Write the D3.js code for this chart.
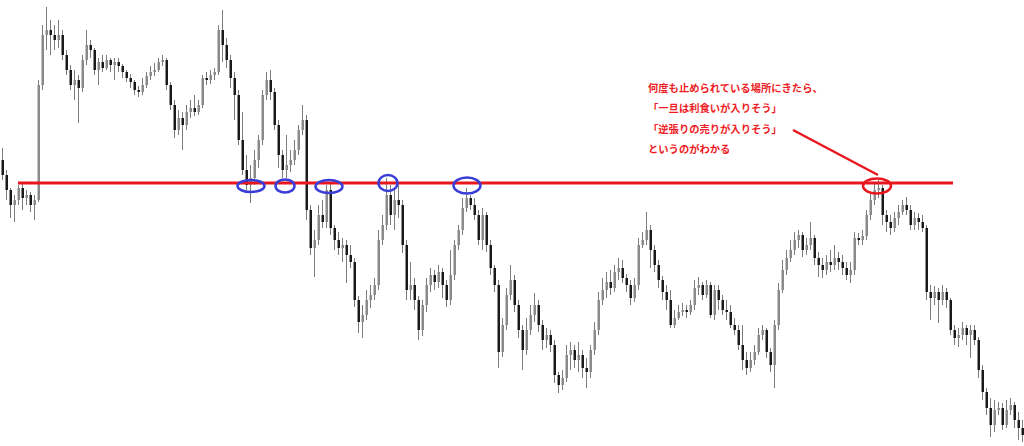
<!DOCTYPE html>
<html><head><meta charset="utf-8">
<script src="https://cdn.jsdelivr.net/npm/d3@7"></script>
<style>html,body{margin:0;padding:0;background:#fff;}svg{display:block;}</style>
</head><body>
<svg id="chart" width="1024" height="446"></svg>
<script>
// Price data (arbitrary price units), one candle per bar
const closes = [275,260,245,250,262,252,255,245,250,365,
415,420,415,410,415,395,380,365,370,362,
390,405,400,380,388,382,390,385,388,384,
378,372,368,360,358,365,374,378,380,388,
390,365,345,320,332,325,338,342,338,345,
372,370,375,378,420,405,390,372,355,310,
280,265,272,290,310,355,370,358,325,295,
280,285,290,300,320,330,240,202,210,235,
228,260,222,210,202,205,195,188,150,128,
135,150,155,165,210,225,255,235,250,245,
205,160,165,150,120,145,165,175,168,178,
165,150,175,205,220,242,252,245,235,210,
235,205,182,165,98,125,155,170,145,120,
100,120,135,145,125,110,115,105,75,65,
72,95,100,90,95,82,78,100,120,150,
160,168,162,178,182,172,165,152,165,205,
210,220,200,185,170,158,150,125,132,138,
140,138,145,162,165,155,165,135,160,150,
140,138,125,120,105,90,82,90,98,115,
120,98,85,125,160,180,192,200,210,215,
200,205,212,192,185,180,188,185,192,188,
182,175,180,212,210,214,235,250,260,262,
235,228,222,232,238,245,240,225,232,228,
222,158,152,158,150,158,150,120,112,115,
122,115,120,110,80,58,42,25,40,42,
25,40,45,30,22,15];
const opens = [290,275,260,245,250,262,252,255,245,250,
365,415,420,415,410,415,395,380,365,370,
362,390,405,400,380,388,382,390,385,388,
384,378,372,368,360,358,365,374,378,380,
388,390,365,345,320,332,325,338,342,338,
345,372,370,375,378,420,405,390,372,355,
310,280,265,272,290,310,355,370,358,325,
295,280,285,290,300,320,330,240,202,210,
235,228,260,222,210,202,205,195,188,150,
128,135,150,155,165,210,225,255,235,250,
245,205,160,165,150,120,145,165,175,168,
178,165,150,175,205,220,242,252,245,235,
210,235,205,182,165,98,125,155,170,145,
120,100,120,135,145,125,110,115,105,75,
65,72,95,100,90,95,82,78,100,120,
150,160,168,162,178,182,172,165,152,165,
205,210,220,200,185,170,158,150,125,132,
138,140,138,145,162,165,155,165,135,160,
150,140,138,125,120,105,90,82,90,98,
115,120,98,85,125,160,180,192,200,210,
215,200,205,212,192,185,180,188,185,192,
188,182,175,180,212,210,214,235,250,260,
262,235,228,222,232,238,245,240,225,232,
228,222,158,152,158,150,158,150,120,112,
115,122,115,120,110,80,58,42,25,40,
42,25,40,45,30,22];
const highs = [302,280,262,255,265,267,260,258,255,370,
425,443,430,425,430,420,400,385,380,375,
395,420,410,402,392,395,395,392,392,392,
386,380,376,370,364,372,378,384,387,392,
395,392,368,350,340,338,345,350,355,350,
375,378,380,382,425,440,412,395,378,360,
338,295,285,300,315,360,378,380,362,330,
300,315,300,310,325,345,335,245,220,245,
250,265,267,225,218,212,210,205,192,154,
145,160,165,172,220,235,272,265,260,265,
250,210,188,172,154,150,172,182,180,185,
182,170,200,210,225,252,262,255,252,240,
242,238,210,185,170,132,162,185,175,150,
125,132,145,157,150,130,122,120,110,78,
80,105,108,105,108,100,92,105,128,158,
172,178,180,185,192,190,176,170,172,212,
218,238,225,205,190,174,165,160,140,145,
147,145,150,170,173,168,170,168,165,165,
155,150,145,132,125,125,98,98,105,122,
125,122,102,130,167,190,200,210,218,220,
218,212,228,215,198,192,195,200,205,198,
195,188,188,218,217,220,240,257,267,270,
265,240,235,238,245,250,253,245,238,237,
235,225,165,164,162,165,162,152,125,122,
128,125,125,125,113,85,62,52,50,48,
47,50,52,48,38,30];
const lows = [270,250,232,228,245,240,245,238,230,248,
360,400,395,400,402,390,375,360,350,327,
358,385,392,375,365,378,380,378,370,378,
372,368,362,355,353,355,362,370,374,378,
384,360,340,312,315,300,320,332,334,335,
342,365,366,370,375,388,382,362,330,305,
275,260,247,265,282,305,350,350,320,282,
272,272,278,285,295,315,230,195,173,205,
222,222,215,200,195,188,167,182,143,117,
112,130,142,150,160,205,220,225,220,232,
197,150,150,140,110,114,138,158,160,162,
152,143,145,170,200,215,238,240,230,205,
200,198,175,158,82,93,120,150,138,112,
80,95,115,128,118,100,102,98,67,57,
60,68,80,82,78,72,62,72,95,115,
145,152,155,158,170,167,158,145,148,160,
202,205,182,178,162,150,140,122,122,130,
134,132,135,140,155,150,152,132,130,140,
135,130,122,115,100,80,75,78,85,95,
110,92,78,62,120,157,175,188,195,202,
193,195,200,185,173,172,175,178,180,180,
175,170,167,175,205,205,210,230,245,252,
225,218,215,218,225,235,235,220,220,220,
218,150,130,145,127,145,142,115,105,103,
110,105,92,105,72,50,35,13,18,35,
20,22,35,22,10,8];
const barIndex = d3.range(closes.length);

// Annotation values
const resistanceLevel = 267;
const resistanceSpan = [4, 237.75];
const touches = [
  {i: 62.25, v: 264, rx: 13.5, ry: 6},
  {i: 70.75, v: 264, rx: 9.5, ry: 6.5},
  {i: 81.75, v: 263.5, rx: 13.5, ry: 6.5},
  {i: 96.5, v: 267, rx: 9.5, ry: 8},
  {i: 116.25, v: 264.5, rx: 13.5, ry: 8}
];
const latestTouch = {i: 218.75, v: 264, rx: 14, ry: 7.5};
const pointer = [{i: 197.75, v: 320}, {i: 219, v: 275}];
const noteLines = ["何度も止められている場所にきたら、", "「一旦は利食いが入りそう」", "「逆張りの売りが入りそう」", "というのがわかる"];

const svg = d3.select("#chart");
const x = d3.scaleLinear().domain([0, closes.length - 1]).range([2, 1022]);
const y = d3.scaleLinear().domain([4, 450]).range([446, 0]);

const g = svg.append("g");
const candles = g.selectAll("g.c").data(barIndex).join("g").attr("class", "c");
candles.append("line")
  .attr("x1", i => Math.round(x(i)) + 0.5).attr("x2", i => Math.round(x(i)) + 0.5)
  .attr("y1", i => y(highs[i])).attr("y2", i => y(lows[i]))
  .attr("stroke", "#7c7c7c").attr("stroke-width", 1);
candles.append("rect")
  .attr("x", i => Math.round(x(i)) - 0.5)
  .attr("width", 2.5)
  .attr("y", i => y(Math.max(opens[i], closes[i])))
  .attr("height", i => Math.max(1, Math.abs(y(opens[i]) - y(closes[i]))))
  .attr("fill", i => closes[i] < opens[i] ? "#1a1a1a" : "#8a8a8a");

// resistance line
svg.append("line")
  .attr("x1", x(resistanceSpan[0])).attr("x2", x(resistanceSpan[1]))
  .attr("y1", y(resistanceLevel)).attr("y2", y(resistanceLevel))
  .attr("stroke", "#e8161d").attr("stroke-width", 3);

svg.selectAll("ellipse.touch").data(touches).join("ellipse").attr("class", "touch")
  .attr("cx", d => x(d.i)).attr("cy", d => y(d.v))
  .attr("rx", d => d.rx).attr("ry", d => d.ry)
  .attr("fill", "none").attr("stroke", "#3a3ed6").attr("stroke-width", 2.5);

svg.append("line")
  .attr("x1", x(pointer[0].i)).attr("y1", y(pointer[0].v))
  .attr("x2", x(pointer[1].i)).attr("y2", y(pointer[1].v))
  .attr("stroke", "#e8161d").attr("stroke-width", 2.5);

svg.append("ellipse")
  .attr("cx", x(latestTouch.i)).attr("cy", y(latestTouch.v))
  .attr("rx", latestTouch.rx).attr("ry", latestTouch.ry)
  .attr("fill", "none").attr("stroke", "#e8161d").attr("stroke-width", 2.5);

svg.append("g").selectAll("text").data(noteLines).join("text")
  .attr("x", 648).attr("y", (d, k) => 92 + k * 20.3)
  .attr("fill", "#ee1c24")
  .attr("font-family", "'Noto Sans CJK JP', sans-serif")
  .attr("font-size", 10.3)
  .attr("font-weight", "bold")
  .text(d => d);
</script>
</body></html>
